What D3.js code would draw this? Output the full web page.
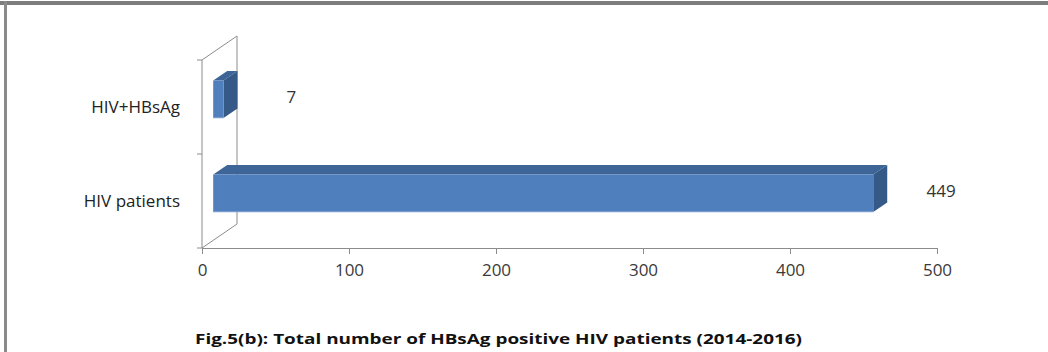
<!DOCTYPE html>
<html>
<head>
<meta charset="utf-8">
<script src="https://cdn.jsdelivr.net/npm/d3@7"></script>
<style>
  html, body { margin: 0; padding: 0; background: #fff; }
  svg { display: block; }
  text { font-family: "Open Sans", "Liberation Sans", sans-serif; }
</style>
</head>
<body>
<svg id="chart" width="1048" height="352"></svg>
<script>
// Chart data
const categories = ["HIV+HBsAg", "HIV patients"];
const values = [7, 449];
const tickValues = [0, 100, 200, 300, 400, 500];
const title = "Fig.5(b): Total number of HBsAg positive HIV patients (2014-2016)";

const W = 1048, H = 352;
const svg = d3.select("#chart");

// Frame lines at the top and the left edge
svg.append("rect").attr("x", 0).attr("y", 1).attr("width", W).attr("height", 4).attr("fill", "#7d7d7d");
svg.append("rect").attr("x", 4).attr("y", 1).attr("width", 3).attr("height", H).attr("fill", "#8a8a8a");

// Front-plane scales
const x = d3.scaleLinear().domain([0, 500]).range([202, 937]);
const y = d3.scaleBand().domain(categories).range([60, 248]).paddingInner(0.6).paddingOuter(0.3);

// 3D depth vector (full depth of the plot box)
const DX = 35, DY = -24;
const f0 = 0.32, f1 = 0.72; // bar front/back depth fractions

const axisColor = "#8c8c8c";

// Left wall (outline) and floor edge
const wall = svg.append("g").attr("fill", "none").attr("stroke", axisColor).attr("stroke-width", 1);
const yTop = 60, yBot = 248, x0 = x(0);
wall.append("path").attr("d", `M${x0},${yTop} L${x0 + DX},${yTop + DY} L${x0 + DX},${yBot + DY} L${x0},${yBot}`);
wall.append("line").attr("x1", x0).attr("y1", yTop).attr("x2", x0).attr("y2", yBot);

// Category axis ticks
const bandTicks = [yTop, (yTop + yBot) / 2, yBot];
wall.selectAll("line.ct").data(bandTicks).join("line")
  .attr("x1", x0 - 5).attr("x2", x0).attr("y1", d => d).attr("y2", d => d);

// Value axis
const xAxis = d3.axisBottom(x).tickValues(tickValues).tickSize(6).tickPadding(10).tickFormat(d3.format("d"));
const gx = svg.append("g").attr("transform", `translate(0,${yBot})`).call(xAxis);
gx.select(".domain").attr("stroke", axisColor);
gx.selectAll(".tick line").attr("stroke", axisColor);
gx.selectAll(".tick text").attr("fill", "#3a3a3a").style("font-size", "17px")
  .style("font-family", "'Open Sans', sans-serif");

// Category labels
svg.append("g").selectAll("text").data(categories).join("text")
  .attr("x", 180)
  .attr("y", d => y(d) + y.bandwidth() / 2 + 1)
  .attr("text-anchor", "end")
  .attr("dominant-baseline", "middle")
  .attr("fill", "#222")
  .style("font-size", "17px")
  .text(d => d);

// 3D bars
const data = categories.map((c, i) => ({ c, v: values[i] }));
const bars = svg.append("g");
data.forEach(d => {
  const xa = x(0) + f0 * DX, xb = x(d.v) + f0 * DX;
  const yt = y(d.c) + f0 * DY, yb = yt + y.bandwidth();
  const ddx = (f1 - f0) * DX, ddy = (f1 - f0) * DY;
  // top face
  bars.append("path")
    .attr("d", `M${xa},${yt} L${xa + ddx},${yt + ddy} L${xb + ddx},${yt + ddy} L${xb},${yt} Z`)
    .attr("fill", "#3d6597");
  // end face
  bars.append("path")
    .attr("d", `M${xb},${yt} L${xb + ddx},${yt + ddy} L${xb + ddx},${yb + ddy} L${xb},${yb} Z`)
    .attr("fill", "#355a88");
  // front face
  bars.append("rect")
    .attr("x", xa).attr("y", yt)
    .attr("width", xb - xa).attr("height", yb - yt)
    .attr("fill", "#4f7fbd");
  bars.append("line")
    .attr("x1", xa).attr("x2", xb).attr("y1", yb - 0.5).attr("y2", yb - 0.5)
    .attr("stroke", "#7fa0cc").attr("stroke-width", 1);
});

// Data labels
svg.append("g").selectAll("text").data(data).join("text")
  .attr("x", d => x(d.v) + 79)
  .attr("y", d => y(d.c) + y.bandwidth() / 2 - 9)
  .attr("text-anchor", "middle")
  .attr("dominant-baseline", "middle")
  .attr("fill", "#333")
  .style("font-size", "17px")
  .text(d => d.v);

// Caption
svg.append("text")
  .attr("x", 195).attr("y", 344)
  .attr("fill", "#111")
  .style("font-size", "15px")
  .style("font-weight", "bold")
  .attr("textLength", 607)
  .attr("lengthAdjust", "spacingAndGlyphs")
  .text(title);
</script>
</body>
</html>
